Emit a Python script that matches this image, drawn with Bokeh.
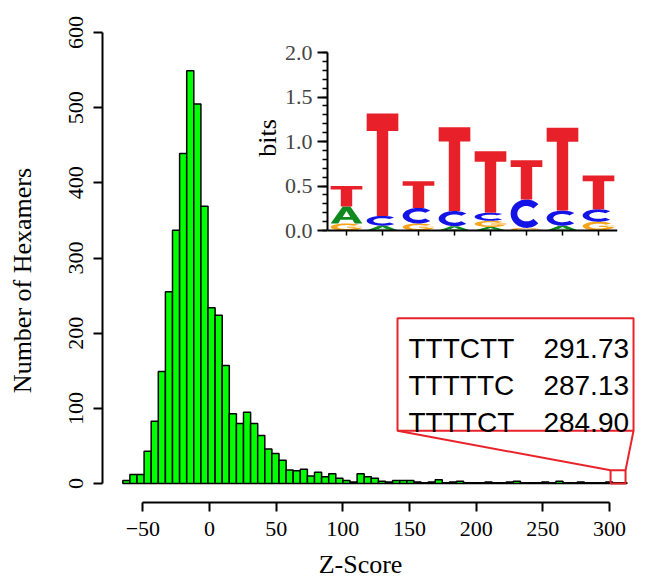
import numpy as np
from bokeh.plotting import figure
from bokeh.models import Range1d, FixedTicker, GridBox, ColumnDataSource, Title
from bokeh.embed import file_html
from bokeh.resources import INLINE
from bokeh.core.properties import value

# ---------------- data ----------------
bin_start = -60
bin_width = 5
counts = [4, 12, 12, 43, 83, 149, 255, 337, 439, 549,
          505, 369, 234, 224, 157, 93, 80, 95, 80, 64,
          46, 40, 31, 18, 17, 19, 10, 15, 9, 13,
          7, 4, 2, 13, 9, 7, 3, 2, 4, 4,
          4, 2, 1, 2, 5, 1, 2, 3, 1, 1,
          1, 2, 1, 1, 2, 3, 1, 1, 1, 2,
          1, 3, 1, 1, 2, 1, 1, 1, 2, 1, 1]
x_ticks = [-50, 0, 50, 100, 150, 200, 250, 300]
x_tick_labels = ["\u221250", "0", "50", "100", "150", "200", "250", "300"]
y_ticks = [0, 100, 200, 300, 400, 500, 600]
y_tick_labels = ["0", "100", "200", "300", "400", "500", "600"]
x_title = "Z-Score"
y_title = "Number of Hexamers"

top_hexamers = ["TTTCTT", "TTTTTC", "TTTTCT"]
top_scores = [291.73, 287.13, 284.90]

logo_positions = [1, 2, 3, 4, 5, 6, 7, 8]
bits_A = [0.19, 0.055, 0.0, 0.05, 0.04, 0.0, 0.055, 0.0]
bits_C = [0.0, 0.11, 0.175, 0.17, 0.09, 0.32, 0.17, 0.14]
bits_G = [0.08, 0.0, 0.08, 0.0, 0.07, 0.03, 0.0, 0.10]
bits_T = [0.23, 1.15, 0.30, 0.94, 0.69, 0.44, 0.93, 0.38]
logo_ticks = [0.0, 0.5, 1.0, 1.5, 2.0]
logo_tick_labels = ["0.0", "0.5", "1.0", "1.5", "2.0"]
logo_title = "bits"

SERIF = "Liberation Serif"
SANS = "Liberation Sans"
RED = "#E8232A"
W, H = 656, 581
# all plots share one grid cell, whose frames get aligned borders
BL, BR, BT, BB = 102, 8, 20, 77
BORDERS = dict(min_border_left=BL, min_border_right=BR,
               min_border_top=BT, min_border_bottom=BB)


def bare(fig):
    fig.grid.visible = False
    fig.outline_line_color = None
    fig.background_fill_color = None
    fig.border_fill_color = None


# ---------------- main histogram ----------------
p = figure(width=W, height=H,
           x_range=Range1d(-80.25, 329.25), y_range=Range1d(-25.17, 615.9),
           output_backend="svg", toolbar_location=None, **BORDERS)
p.extra_x_ranges = {"hist": Range1d(-74.3, 310.2)}
bare(p)
p.border_fill_color = "white"

edges = bin_start + bin_width * np.arange(len(counts) + 1)
src = ColumnDataSource(dict(left=edges[:-1], right=edges[1:], top=counts))
p.quad(left="left", right="right", top="top", bottom=0, source=src,
       x_range_name="hist", fill_color="#00FF00", line_color="black",
       line_width=1.5)

for ax in (p.xaxis[0], p.yaxis[0]):
    ax.axis_line_width = 2
    ax.major_tick_line_width = 2
    ax.major_tick_out = 9
    ax.major_tick_in = 0
    ax.minor_tick_out = 0
    ax.minor_tick_in = 0
    ax.major_label_text_font = SERIF
    ax.major_label_text_font_size = "22px"
    ax.major_label_text_color = "black"
    ax.axis_line_color = "black"
    ax.major_tick_line_color = "black"

p.xaxis.ticker = FixedTicker(ticks=x_ticks)
p.xaxis.major_label_overrides = dict(zip(x_ticks, x_tick_labels))
p.xaxis.bounds = (x_ticks[0], x_ticks[-1])
p.xaxis.major_label_standoff = 10

p.yaxis.ticker = FixedTicker(ticks=y_ticks)
p.yaxis.major_label_overrides = dict(zip(y_ticks, y_tick_labels))
p.yaxis.bounds = (y_ticks[0], y_ticks[-1])
p.yaxis.major_label_orientation = "vertical"
p.yaxis.major_label_standoff = 10

# red call-out: small box around the top scores, big box with the table
lo = min(top_scores) - 1.4
hi = max(top_scores) + 2.3
box_h = 17.6
big_l, big_r, big_b, big_t = 133.45, 299.65, 70.2, 219.9
p.quad(left=[lo], right=[hi], bottom=[0], top=[box_h], x_range_name="hist",
       fill_color=None, line_color=RED, line_width=2)
p.quad(left=[big_l], right=[big_r], bottom=[big_b], top=[big_t], x_range_name="hist",
       fill_color="white", line_color=RED, line_width=2)
p.segment(x0=[big_l, big_r], y0=[big_b, big_b], x1=[lo, hi], y1=[box_h, box_h],
          x_range_name="hist", line_color=RED, line_width=2)

row_y = [180.1 - i * 49.4 for i in range(len(top_hexamers))]
tsrc = ColumnDataSource(dict(name=top_hexamers,
                             score=["%.2f" % s for s in top_scores],
                             y=row_y, xl=[141.2] * 3, xr=[296.5] * 3))
p.text(x="xl", y="y", text="name", source=tsrc, x_range_name="hist",
       text_font=value(SANS), text_font_size=value("28px"),
       text_align="left", text_baseline="alphabetic", text_color="black")
p.text(x="xr", y="y", text="score", source=tsrc, x_range_name="hist",
       text_font=value(SANS), text_font_size=value("28px"),
       text_align="right", text_baseline="alphabetic", text_color="black")

# ---------------- axis titles (frame centred on the title positions) ----------------
tf_frame_l, tf_frame_r, tf_frame_t, tf_frame_b = BL, 618, 58, 504
tf = figure(width=tf_frame_r + BR, height=(tf_frame_b - tf_frame_t) + BT + BB,
            x_range=Range1d(0, 1), y_range=Range1d(0, 1),
            output_backend="svg", toolbar_location=None, **BORDERS)
tf.margin = (tf_frame_t - BT, 0, 0, 0)
bare(tf)
for ax in (tf.xaxis[0], tf.yaxis[0]):
    ax.ticker = FixedTicker(ticks=[])
    ax.axis_line_color = None
    ax.major_tick_out = 0
    ax.major_tick_in = 0
    ax.minor_tick_out = 0
    ax.minor_tick_in = 0
    ax.axis_label_text_font = SERIF
    ax.axis_label_text_font_size = "26px"
    ax.axis_label_text_font_style = "normal"
    ax.axis_label_text_color = "black"
tf.xaxis.axis_label = x_title
tf.xaxis.axis_label_standoff = 47
tf.yaxis.axis_label = y_title
tf.yaxis.axis_label_standoff = 66

# ---------------- sequence logo inset ----------------
inset = figure(width=BL + 290 + BR, height=BT + 189 + BB,
               x_range=Range1d(0.472, 8.528), y_range=Range1d(-0.1, 2.0),
               output_backend="svg", toolbar_location=None,
               x_axis_location=None, **BORDERS)
inset.margin = (52 - BT, 0, 0, 327 - BL)
bare(inset)


def arc_ring(a0, a1, ro=(0.5, 0.5), ri=(0.29, 0.27), n=48):
    t = np.radians(np.linspace(a0, a1, n))
    ox = 0.5 + ro[0] * np.cos(t)
    oy = 0.5 + ro[1] * np.sin(t)
    ix = 0.5 + ri[0] * np.cos(t[::-1])
    iy = 0.5 + ri[1] * np.sin(t[::-1])
    return [list(np.concatenate([ox, ix])), list(np.concatenate([oy, iy]))]


SHAPES = {
    "T": [[[[0, 1, 1, 0.68, 0.68, 0.32, 0.32, 0], [1, 1, 0.83, 0.83, 0, 0, 0.83, 0.83]]]],
    "C": [[arc_ring(42, 318)]],
    "G": [[arc_ring(38, 360)], [[[0.52, 1.0, 1.0, 0.52], [0.40, 0.40, 0.55, 0.55]]]],
    "A": [[[[0, 0.38, 0.62, 1, 0.76, 0.69, 0.31, 0.24], [0, 1, 1, 0, 0, 0.22, 0.22, 0]],
           [[0.38, 0.5, 0.62], [0.38, 0.74, 0.38]]]],
}
COLORS = {"A": "#0E8A1E", "C": "#1414E6", "G": "#F8A51C", "T": "#E8202A"}
letter_bits = {"A": bits_A, "C": bits_C, "G": bits_G, "T": bits_T}
lw = 0.88

xs, ys, cols = [], [], []
for i, pos in enumerate(logo_positions):
    stack = sorted(((letter_bits[L][i], L) for L in "ACGT"), key=lambda t: t[0])
    base = 0.0
    for h, L in stack:
        if h <= 0:
            continue
        gx, gy = [], []
        for poly in SHAPES[L]:
            px_rings, py_rings = [], []
            for ring in poly:
                u, v = ring
                px_rings.append([pos - lw / 2 + uu * lw for uu in u])
                py_rings.append([base + vv * h for vv in v])
            gx.append(px_rings)
            gy.append(py_rings)
        xs.append(gx)
        ys.append(gy)
        cols.append(COLORS[L])
        base += h

inset.multi_polygons(xs="xs", ys="ys", color="c",
                     source=ColumnDataSource(dict(xs=xs, ys=ys, c=cols)),
                     line_width=0)

# inset x axis (position axis, no labels): line and tick marks
x_lo, x_hi = inset.x_range.start, inset.x_range.end
inset.segment(x0=[x_lo], y0=[0], x1=[x_hi], y1=[0], line_color="black", line_width=2)
inset.segment(x0=logo_positions, y0=[0] * len(logo_positions),
              x1=logo_positions, y1=[-0.056] * len(logo_positions),
              line_color="black", line_width=1.5)

ya = inset.yaxis[0]
ya.ticker = FixedTicker(ticks=logo_ticks,
                        minor_ticks=[round(0.1 * k, 1) for k in range(21)])
ya.major_label_overrides = dict(zip(logo_ticks, logo_tick_labels))
ya.bounds = (logo_ticks[0], logo_ticks[-1])
ya.axis_line_width = 2
ya.major_tick_line_width = 2
ya.minor_tick_line_width = 1.5
ya.major_tick_out = 10
ya.major_tick_in = 0
ya.minor_tick_out = 5
ya.minor_tick_in = 0
ya.major_label_text_font = SERIF
ya.major_label_text_font_size = "22px"
ya.major_label_standoff = 5

inset.add_layout(Title(text=logo_title, align="left", offset=82.7,
                       vertical_align="bottom", standoff=0,
                       text_font=SERIF, text_font_size="26px",
                       text_font_style="normal", text_color="black"), "left")

layout = GridBox(children=[(p, 0, 0), (tf, 0, 0), (inset, 0, 0)])

open("out.html", "w").write(file_html(layout, INLINE))
